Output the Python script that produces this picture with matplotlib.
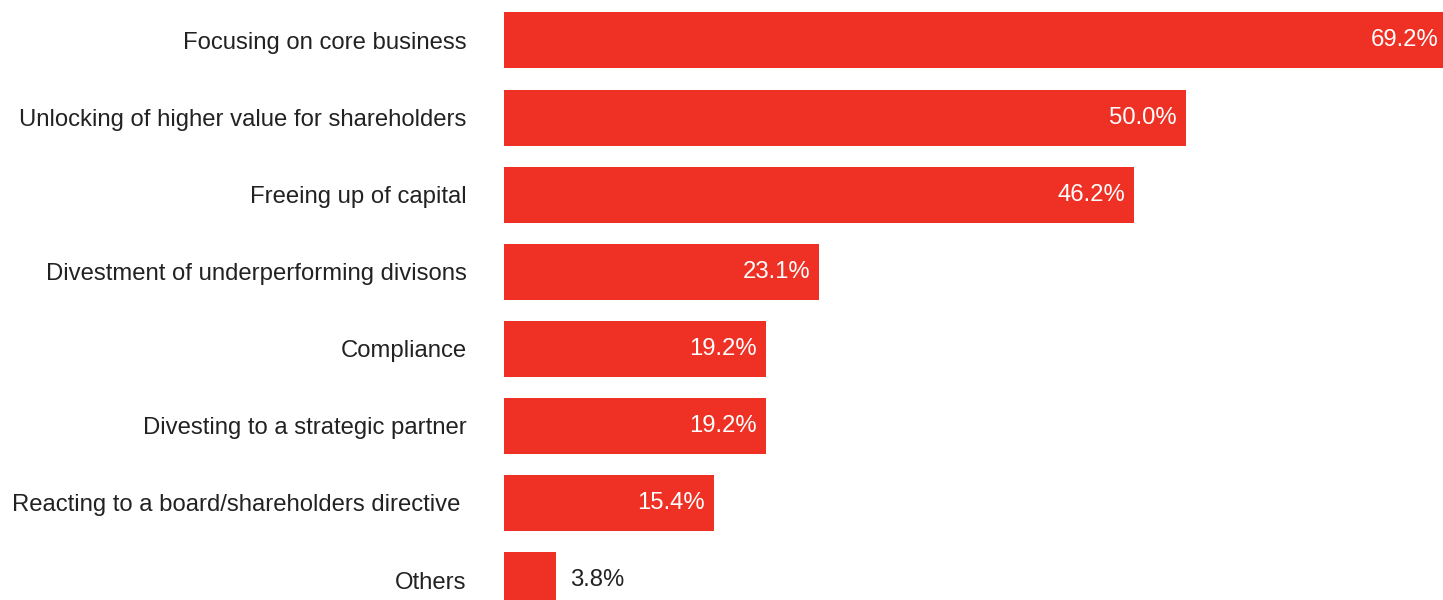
import matplotlib
matplotlib.use("Agg")
import matplotlib.pyplot as plt

# Survey: reasons for divestment (share of respondents, %)
categories = [
    "Focusing on core business",
    "Unlocking of higher value for shareholders",
    "Freeing up of capital",
    "Divestment of underperforming divisons",
    "Compliance",
    "Divesting to a strategic partner",
    "Reacting to a board/shareholders directive ",
    "Others",
]
values = [69.2, 50.0, 46.2, 23.1, 19.2, 19.2, 15.4, 3.8]

BAR_COLOR = "#EE3124"
TEXT_COLOR = "#222222"
FONT_SIZE = 17.2

plt.rcParams["font.family"] = ["Liberation Sans", "DejaVu Sans"]

W, H, DPI = 1443, 600, 100
fig = plt.figure(figsize=(W / DPI, H / DPI), dpi=DPI)
ax = fig.add_axes([504 / W, 0, 1 - 504 / W, 1])

positions = list(range(len(categories)))
ax.barh(positions, values, height=0.7265, color=BAR_COLOR, linewidth=0)

ax.set_xlim(0, 68.84)
ax.set_ylim(7.259, -0.525)

ax.set_yticks(positions)
ax.set_yticklabels(categories, fontsize=FONT_SIZE, color=TEXT_COLOR)
ax.tick_params(axis="y", length=0, pad=27)
ax.set_xticks([])
for s in ax.spines.values():
    s.set_visible(False)

# Value labels: inside the bar in white, outside in dark grey for short bars
for y, v in zip(positions, values):
    label = f"{v:.1f}%"
    if v > 10:
        ax.annotate(label, xy=(v, y), xytext=(-9, 0), textcoords="offset pixels",
                    ha="right", va="center", fontsize=FONT_SIZE,
                    color="white", annotation_clip=False)
    else:
        ax.annotate(label, xy=(v, y), xytext=(14, 0), textcoords="offset pixels",
                    ha="left", va="center", fontsize=FONT_SIZE,
                    color=TEXT_COLOR, annotation_clip=False)

fig.savefig("out.png", dpi=DPI)
